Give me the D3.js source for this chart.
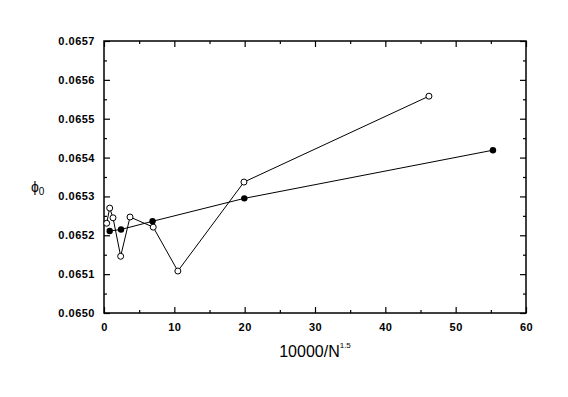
<!DOCTYPE html>
<html>
<head>
<meta charset="utf-8">
<script src="https://cdn.jsdelivr.net/npm/d3@7"></script>
<style>
  body { margin: 0; background: #fff; }
  svg { display: block; font-family: "Liberation Sans", Arial, sans-serif; }
</style>
</head>
<body>
<svg id="chart" width="568" height="397"></svg>
<script>
// open circles
var openX = [0.38, 0.81, 1.28, 2.37, 3.7, 7.0, 10.5, 19.9, 46.2];
var openY = [0.065231, 0.065270, 0.065245, 0.065146, 0.065247, 0.065221, 0.065108, 0.065337, 0.065558];
// filled circles
var filledX = [0.81, 2.42, 6.9, 19.95, 55.3];
var filledY = [0.065211, 0.065215, 0.065236, 0.065295, 0.065419];

var xTicks = [0, 10, 20, 30, 40, 50, 60];
var yTicks = [0.0650, 0.0651, 0.0652, 0.0653, 0.0654, 0.0655, 0.0656, 0.0657];

var svg = d3.select('#chart'),
    mLeft = 104, mRight = 526, mTop = 41, mBottom = 313;

var x = d3.scaleLinear().domain([0, 60]).range([mLeft, mRight]);
var y = d3.scaleLinear().domain([0.0650, 0.0657]).range([mBottom, mTop]);

var xMinor = d3.range(5, 60, 10);
var yMinor = d3.range(0, 7).map(i => 0.06505 + i * 0.0001);

// frame
svg.append('rect')
    .attr('x', mLeft).attr('y', mTop)
    .attr('width', mRight - mLeft).attr('height', mBottom - mTop)
    .attr('fill', 'none').attr('stroke', '#000').attr('stroke-width', 1.5);

function ticks(axis, pos, vals, len, showLabels, fmt) {
    var g = svg.append('g').attr('transform', pos);
    var a = axis.tickValues(vals).tickSizeInner(len).tickSizeOuter(0).tickPadding(8);
    a.tickFormat(showLabels ? fmt : '');
    g.call(a);
    g.select('.domain').remove();
    g.selectAll('line').attr('stroke', '#000').attr('stroke-width', 1.2);
    g.selectAll('text')
        .attr('font-size', 11).attr('font-weight', 'bold')
        .attr('letter-spacing', 0.5).attr('fill', '#000')
        .attr('font-family', '"Liberation Sans", Arial, sans-serif');
    return g;
}

var fx = d3.format('d'), fy = d3.format('.4f');
// bottom / top (ticks inward)
ticks(d3.axisTop(x), 'translate(0,' + mBottom + ')', xTicks, 6, false);
ticks(d3.axisTop(x), 'translate(0,' + mBottom + ')', xMinor, 3, false);
ticks(d3.axisBottom(x), 'translate(0,' + mTop + ')', xTicks, 6, false);
ticks(d3.axisBottom(x), 'translate(0,' + mTop + ')', xMinor, 3, false);
// left / right
ticks(d3.axisRight(y), 'translate(' + mLeft + ',0)', yTicks, 6, false);
ticks(d3.axisRight(y), 'translate(' + mLeft + ',0)', yMinor, 3, false);
ticks(d3.axisLeft(y), 'translate(' + mRight + ',0)', yTicks, 6, false);
ticks(d3.axisLeft(y), 'translate(' + mRight + ',0)', yMinor, 3, false);

// labels
var xl = ticks(d3.axisBottom(x), 'translate(0,' + mBottom + ')', xTicks, 0, true, fx);
xl.selectAll('text').attr('y', 10);
ticks(d3.axisLeft(y), 'translate(' + (mLeft - 1) + ',0)', yTicks, 0, true, fy);

// axis titles
var xt = svg.append('text')
    .attr('x', 315).attr('y', 357)
    .attr('text-anchor', 'middle')
    .attr('font-size', 16);
xt.append('tspan').text('10000/N');
xt.append('tspan').attr('font-size', 8).attr('dy', -9).text('1.5');

var yt = svg.append('text')
    .attr('x', 31).attr('y', 192)
    .attr('font-size', 14);
yt.append('tspan').text('ϕ');
yt.append('tspan').attr('font-size', 10).attr('dy', 3).text('0');

// series
var openData = openX.map((d, i) => [d, openY[i]]);
var filledData = filledX.map((d, i) => [d, filledY[i]]);
var line = d3.line().x(d => x(d[0])).y(d => y(d[1]));

svg.append('path').attr('d', line(openData))
    .attr('fill', 'none').attr('stroke', '#000').attr('stroke-width', 1);
svg.append('path').attr('d', line(filledData))
    .attr('fill', 'none').attr('stroke', '#000').attr('stroke-width', 1);

svg.selectAll('.open').data(openData).enter().append('circle')
    .attr('class', 'open')
    .attr('cx', d => x(d[0])).attr('cy', d => y(d[1])).attr('r', 3)
    .attr('fill', '#fff').attr('stroke', '#000').attr('stroke-width', 1);

svg.selectAll('.filled').data(filledData).enter().append('circle')
    .attr('class', 'filled')
    .attr('cx', d => x(d[0])).attr('cy', d => y(d[1])).attr('r', 3.2)
    .attr('fill', '#000');
</script>
</body>
</html>
